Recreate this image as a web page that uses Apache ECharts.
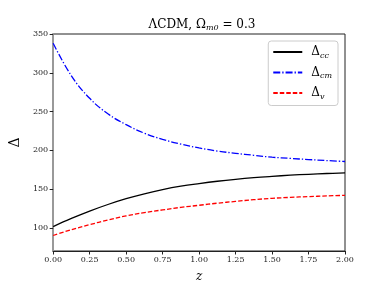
<!DOCTYPE html>
<html><head><meta charset="utf-8">
<script src="https://cdn.jsdelivr.net/npm/echarts@6/dist/echarts.min.js"></script>
<style>html,body{margin:0;padding:0;background:#fff}#c{width:384px;height:288px}</style>
</head><body><div id="c"></div>
<script>
const zValues = [0, 0.125, 0.25, 0.375, 0.5, 0.625, 0.75, 0.875, 1.0, 1.125, 1.25, 1.375, 1.5, 1.625, 1.75, 1.875, 2.0];
const deltaCC = [101.5, 112, 121.5, 130, 137.5, 143.8, 149.2, 153.6, 157, 160, 162.5, 164.6, 166.3, 167.8, 169, 170, 170.8];
const deltaCM = [338, 296, 267, 247, 233, 222, 214, 208, 203, 199, 196, 193.5, 191, 189.5, 188, 186.7, 185.5];
const deltaV  = [90, 97.5, 104, 110, 115.3, 119.5, 123, 126.3, 129, 131.7, 134, 136.2, 138, 139.2, 140.2, 141.1, 141.8];
const yTicks = [100, 150, 200, 250, 300, 350];
const seriesNames = ['cc', 'cm', 'v'];

const serif = '"DejaVu Serif", "Liberation Serif", serif';
const chart = echarts.init(document.getElementById('c'), null, {renderer: 'canvas'});
function pairs(ys){ return zValues.map((z,i)=>[z, ys[i]]); }
const rich = {
  d: {fontFamily: serif, fontSize: 12, fontWeight: 'normal', color: '#000'},
  s: {fontFamily: serif, fontSize: 8, fontWeight: 'normal', fontStyle: 'italic', color: '#000', padding: [7,0,0,0]}
};
chart.setOption({
  animation: false,
  title: {
    text: '{a|ΛCDM, Ω}{s|m0}{a| = 0.3}',
    left: 197, top: 13, textAlign: 'center',
    textStyle: {fontWeight: 'normal', rich: {
      a: {fontFamily: serif, fontSize: 12, fontWeight: 'normal', color: '#000'},
      s: {fontFamily: serif, fontSize: 8, fontWeight: 'normal', fontStyle: 'italic', color: '#000', padding: [6,0,0,0]}
    }}
  },
  grid: {left: 48, right: 39, top: 34, bottom: 32, show: true, borderColor: '#222', borderWidth: 1, backgroundColor: 'transparent'},
  legend: {
    right: 46, top: 41, orient: 'vertical',
    itemWidth: 29, itemHeight: 12, itemGap: 7,
    padding: [5, 6, 5, 4],
    borderColor: '#ccc', borderWidth: 1, borderRadius: 3,
    backgroundColor: 'rgba(255,255,255,0.8)',
    itemStyle: {opacity: 0},
    formatter: function(name){ return '{d|Δ}{s|' + name + '}'; },
    textStyle: {rich: rich, padding: [0,0,0,4]},
    data: seriesNames
  },
  xAxis: {
    type: 'value', min: 0, max: 2, interval: 0.25,
    name: 'z', nameLocation: 'middle', nameGap: 20,
    nameTextStyle: {fontFamily: serif, fontSize: 12, fontStyle: 'italic', color: '#000'},
    axisLine: {show: true, lineStyle: {color: '#222', width: 1}},
    axisTick: {show: true, length: 3.5, inside: false, lineStyle: {color: '#222'}},
    axisLabel: {fontFamily: serif, fontSize: 8, color: '#222', margin: 5, formatter: v => v.toFixed(2)},
    splitLine: {show: false}
  },
  yAxis: {
    type: 'value', min: 70, max: 350,
    name: 'Δ', nameLocation: 'middle', nameGap: 17, nameRotate: 90,
    nameTextStyle: {fontFamily: serif, fontSize: 14, color: '#000'},
    axisLine: {show: true, lineStyle: {color: '#999', width: 2}},
    axisTick: {show: true, length: 3.5, inside: false, customValues: yTicks, lineStyle: {color: '#222'}},
    axisLabel: {fontFamily: serif, fontSize: 8, color: '#222', margin: 5, customValues: yTicks},
    splitLine: {show: false}
  },
  series: [
    {name: 'cc', type: 'line', data: pairs(deltaCC), smooth: 0.4, symbol: 'none',
     lineStyle: {color: '#000', width: 1.3, type: 'solid'}, itemStyle: {color: '#000'}},
    {name: 'cm', type: 'line', data: pairs(deltaCM), smooth: 0.4, symbol: 'none',
     lineStyle: {color: '#0000ff', width: 1.3, type: [7, 2, 1.3, 2]}, itemStyle: {color: '#0000ff'}},
    {name: 'v', type: 'line', data: pairs(deltaV), smooth: 0.4, symbol: 'none',
     lineStyle: {color: '#ff0000', width: 1.3, type: [4.5, 2]}, itemStyle: {color: '#ff0000'}}
  ]
});
</script></body></html>
